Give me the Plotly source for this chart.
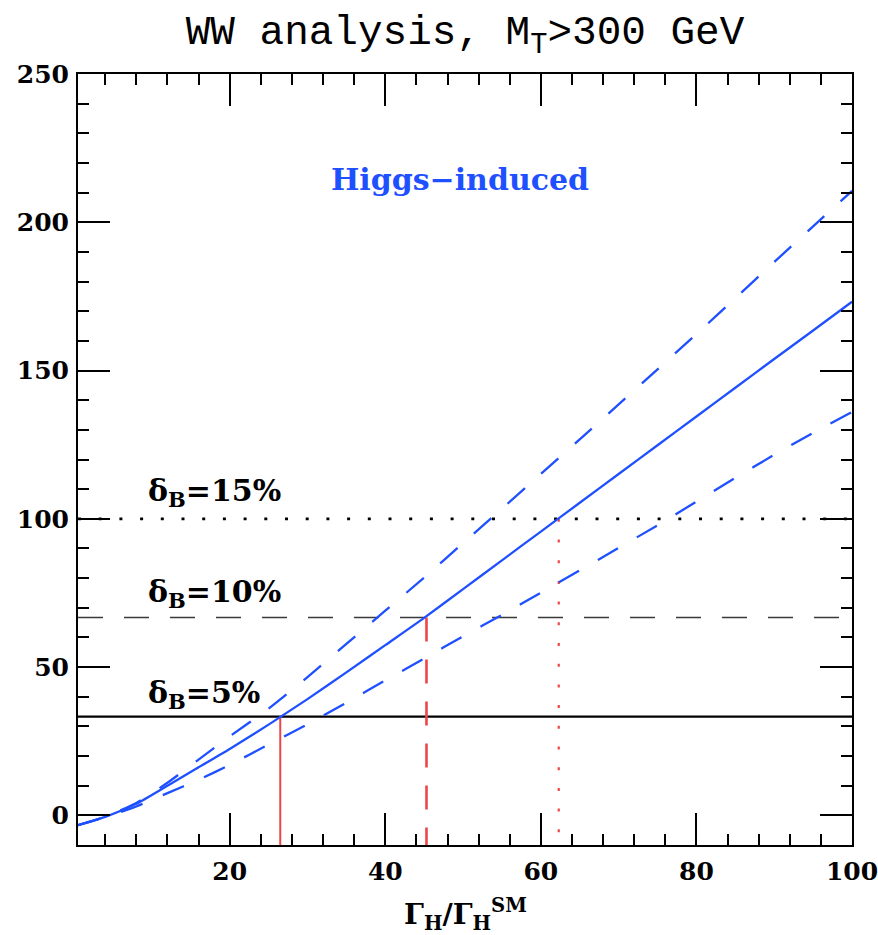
import plotly.graph_objects as go

# ---- data ----
gamma_ratio = [0.5, 4, 8, 12, 16, 20, 25, 30, 35, 40, 45, 50, 55, 60, 65, 70, 75, 80, 85, 90, 95, 100]
central = [-3.3, -0.5, 3.9, 10.0, 16.2, 22.4, 30.6, 39.2, 48.2, 57.4, 66.6, 76.3, 86.0, 95.7, 105.4, 115.1, 124.8, 134.5, 144.2, 153.9, 163.5, 173.2]
upper = [-3.3, -0.5, 4.2, 11.0, 18.8, 26.6, 36.0, 46.6, 57.8, 69.0, 80.2, 91.8, 103.4, 115.1, 126.8, 138.6, 150.4, 162.3, 174.4, 186.6, 198.6, 210.6]
lower = [-3.3, -0.6, 3.0, 7.5, 12.0, 17.0, 23.9, 30.7, 38.0, 45.5, 52.9, 60.4, 67.6, 75.1, 82.6, 90.2, 97.8, 105.8, 113.8, 121.6, 129.0, 136.0]

delta_labels = ["5%", "10%", "15%"]
delta_levels = [33.3, 66.7, 100.0]
crossing_x = [26.5, 45.3, 62.3]

x_range = [0.5, 100]
y_range = [-10, 250]
x_ticks = [20, 40, 60, 80, 100]
y_ticks = [0, 50, 100, 150, 200, 250]

BLUE = "#1f50ff"
RED = "#ee4646"

fig = go.Figure()

# horizontal delta_B levels
h_styles = [dict(color="black", width=2.2, dash="solid"),
            dict(color="#3a3a3a", width=1.6, dash="25px,21px"),
            dict(color="black", width=2.8, dash="3px,17.7px")]
for lvl, st in zip(delta_levels, h_styles):
    fig.add_trace(go.Scatter(x=x_range, y=[lvl, lvl], mode="lines",
                             line=st, showlegend=False, hoverinfo="skip"))

# red vertical lines
v_styles = [dict(color=RED, width=2, dash="solid"),
            dict(color=RED, width=2.6, dash="24px,18px"),
            dict(color=RED, width=2.2, dash="3px,17.7px")]
for cx, lvl, st in zip(crossing_x, delta_levels, v_styles):
    fig.add_trace(go.Scatter(x=[cx, cx], y=[lvl, y_range[0]], mode="lines",
                             line=st, showlegend=False, hoverinfo="skip"))

# blue curves
fig.add_trace(go.Scatter(x=gamma_ratio, y=upper, mode="lines",
                         line=dict(color=BLUE, width=2.3, dash="23px,22px", shape="spline", smoothing=0.6),
                         showlegend=False))
fig.add_trace(go.Scatter(x=gamma_ratio, y=lower, mode="lines",
                         line=dict(color=BLUE, width=2.3, dash="23px,22px", shape="spline", smoothing=0.6),
                         showlegend=False))
fig.add_trace(go.Scatter(x=gamma_ratio, y=central, mode="lines",
                         line=dict(color=BLUE, width=2.3, shape="spline", smoothing=0.6),
                         showlegend=False))

label_y = [40.8, 74.8, 108.8]
for lab, ly in zip(delta_labels, label_y):
    fig.add_annotation(x=9.3, y=ly, xref="x", yref="y", xanchor="left", yanchor="middle",
                       text="δ<sub>B</sub>=" + lab, showarrow=False,
                       font=dict(family="DejaVu Serif", size=30, color="black", weight="bold"))

fig.add_annotation(x=49.6, y=214.5, xref="x", yref="y", xanchor="center", yanchor="middle",
                   text="Higgs−induced", showarrow=False,
                   font=dict(family="DejaVu Serif", size=30, color=BLUE, weight="bold"))

fig.add_annotation(x=0.5, y=-0.0895, xref="paper", yref="paper", xanchor="center", yanchor="middle",
                   text="Γ<sub>H</sub>/Γ<sub>H</sub><sup>SM</sup>", showarrow=False,
                   font=dict(family="DejaVu Serif", size=28, color="black", weight="bold"))

axis_common = dict(showline=True, linecolor="black", linewidth=2, mirror="allticks",
                   ticks="inside", ticklen=32, tickwidth=2, tickcolor="black",
                   showgrid=False, zeroline=False, automargin=False,
                   ticklabeloverflow="allow",
                   tickfont=dict(family="DejaVu Serif", size=25, color="black", weight="bold"))

fig.update_xaxes(range=x_range, tickvals=x_ticks,
                 minor=dict(dtick=4, tick0=0, ticks="inside", ticklen=11, tickwidth=2,
                            tickcolor="black", showgrid=False),
                 ticklabelstandoff=3, **axis_common)
fig.update_yaxes(range=y_range, tickvals=y_ticks,
                 minor=dict(dtick=10, tick0=0, ticks="inside", ticklen=11, tickwidth=2,
                            tickcolor="black", showgrid=False),
                 ticklabelstandoff=2, **axis_common)

fig.update_layout(
    width=878, height=935,
    margin=dict(l=78, r=26, t=74, b=90),
    plot_bgcolor="white", paper_bgcolor="white",
    title=dict(text="WW analysis, M<sub>T</sub>>300 GeV", x=0.5, xref="paper",
               y=1 - 30 / 935, yref="container", yanchor="middle", xanchor="center",
               font=dict(family="Liberation Mono", size=41, color="black")),
    showlegend=False,
)

fig.write_html("out.html", config={"displayModeBar": False},
               post_script="document.body.style.margin='0px';")
